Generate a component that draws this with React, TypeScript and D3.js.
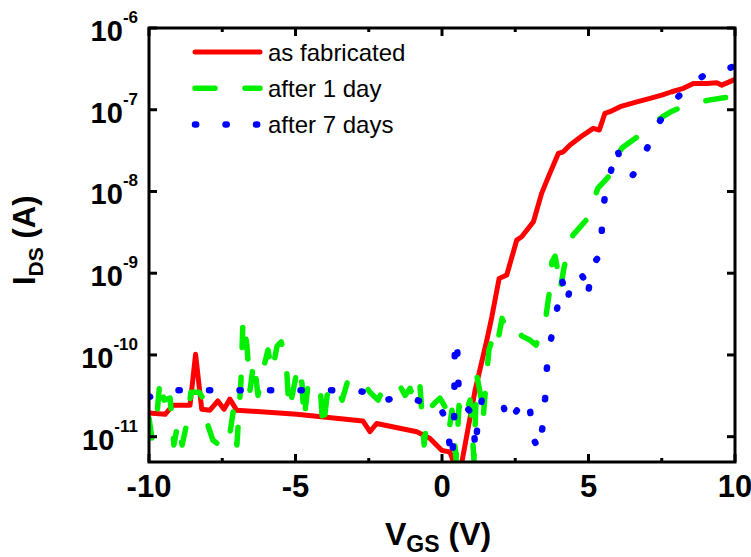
import React from 'react';
import * as d3 from 'd3';

// ---- data (V_GS in volts, I_DS in amperes) ----
const xMajorTicks = [-10, -5, 0, 5, 10];
const xMinorTicks = [-7.5, -2.5, 2.5, 7.5];
const yTickExponents = [-6, -7, -8, -9, -10, -11];
const seriesNames = ['as fabricated', 'after 1 day', 'after 7 days'];

const asFabricated: [number, number][] = [
  [-10.0, 1.95e-11], [-9.45, 1.88e-11], [-9.18, 2.43e-11], [-8.6, 2.43e-11],
  [-8.41, 1.02e-10], [-8.2, 2.17e-11], [-7.92, 2.11e-11], [-7.65, 2.74e-11],
  [-7.44, 2.17e-11], [-7.24, 2.88e-11], [-7.01, 2.11e-11], [-4.96, 1.88e-11],
  [-2.7, 1.56e-11], [-2.46, 1.15e-11], [-2.23, 1.45e-11], [-0.86, 1.15e-11],
  [-0.41, 9.5e-12], [-0.01, 6.8e-12], [0.27, 6.5e-12], [0.45, 4.3e-12],
  [0.55, 3.0e-12], [0.65, 4.3e-12], [1.13, 3.7e-11], [1.53, 1.52e-10],
  [1.7, 2.92e-10], [1.95, 8.6e-10], [2.21, 9.5e-10], [2.55, 2.54e-9],
  [2.72, 2.79e-9], [3.12, 4.26e-9], [3.4, 9.48e-9], [3.63, 1.51e-8],
  [3.97, 2.92e-8], [4.14, 3.06e-8], [4.37, 3.7e-8], [4.82, 4.9e-8],
  [5.16, 5.92e-8], [5.37, 5.65e-8], [5.56, 9.04e-8], [5.73, 9.46e-8],
  [6.08, 1.09e-7], [6.65, 1.25e-7], [7.1, 1.38e-7], [7.5, 1.51e-7],
  [7.84, 1.66e-7], [8.24, 1.83e-7], [8.58, 2.1e-7], [9.03, 2.1e-7],
  [9.38, 2.14e-7], [9.55, 2.0e-7], [10.0, 2.35e-7],
];

const after1Day: [number, number][] = [
  [-10.0, 1.68e-11], [-9.9, 9.6e-12], [-9.73, 1.83e-11], [-9.62, 5.2e-11],
  [-9.49, 2.8e-11], [-9.28, 2.96e-11], [-9.15, 7.9e-12], [-9.01, 1.5e-11],
  [-8.87, 7.9e-12], [-8.7, 1.5e-11], [-8.57, 3.5e-11], [-8.29, 3.5e-11],
  [-8.12, 2.8e-11], [-7.99, 1.38e-11], [-7.82, 9.1e-12], [-7.61, 7.9e-12],
  [-7.44, 1.04e-11], [-7.27, 9.1e-12], [-7.13, 2.0e-11], [-7.0, 7.9e-12],
  [-6.86, 4.9e-11], [-6.79, 2.8e-10], [-6.66, 1.32e-10], [-6.55, 3.7e-11],
  [-6.42, 8.6e-11], [-6.28, 3.2e-11], [-6.11, 6.5e-11], [-5.94, 1.15e-10],
  [-5.8, 6.2e-11], [-5.63, 1.28e-10], [-5.49, 1.44e-10], [-5.32, 8.6e-11],
  [-5.22, 2.1e-11], [-5.09, 3.5e-11], [-4.91, 7.5e-11], [-4.78, 4.5e-11],
  [-4.71, 1.59e-11], [-4.57, 4.3e-11], [-4.37, 4.9e-11], [-4.16, 4.3e-11],
  [-4.06, 1.2e-11], [-3.92, 3.2e-11], [-3.75, 4.3e-11], [-3.58, 4.3e-11],
  [-3.41, 2.8e-11], [-3.21, 4.9e-11], [-2.94, 5.5e-11], [-2.7, 4.6e-11],
  [-2.46, 3.5e-11], [-2.18, 2.8e-11], [-1.95, 4.3e-11], [-1.71, 4.6e-11],
  [-1.43, 4.15e-11], [-1.26, 3.2e-11], [-1.09, 3.9e-11], [-0.92, 2.6e-11],
  [-0.75, 4.15e-11], [-0.61, 7.9e-12], [-0.48, 2.1e-11], [-0.24, 2.6e-11],
  [-0.07, 2.96e-11], [0.14, 2.2e-11], [0.24, 1.2e-11], [0.34, 2.1e-11],
  [0.48, 5.2e-12], [0.58, 2.4e-11], [0.72, 1.59e-11], [0.96, 2.8e-11],
  [1.02, 1.31e-11], [1.09, 5.2e-12], [1.19, 5.5e-11], [1.3, 3.5e-11],
  [1.4, 1.59e-11], [1.5, 4.5e-11], [1.6, 1.15e-10], [1.77, 1.75e-10],
  [1.88, 1.32e-10], [2.05, 2.8e-10], [2.22, 2.0e-10], [2.46, 2.25e-10],
  [2.73, 1.7e-10], [3.0, 1.52e-10], [3.21, 1.32e-10], [3.38, 2.0e-10],
  [3.55, 2.99e-10], [3.65, 5.4e-10], [3.75, 1.37e-9], [3.86, 1.62e-9],
  [3.96, 1.03e-9], [4.03, 6.2e-10], [4.16, 1.15e-9], [4.3, 1.92e-9],
  [4.47, 2.92e-9], [4.71, 3.66e-9], [4.98, 4.72e-9], [5.15, 7.2e-9],
  [5.32, 1.1e-8], [5.49, 1.27e-8], [5.67, 1.5e-8], [5.9, 2.42e-8],
  [6.14, 3.4e-8], [6.42, 4.03e-8], [6.66, 4.63e-8], [6.86, 5.48e-8],
  [7.17, 6.68e-8], [7.51, 8.1e-8], [7.85, 9.6e-8], [8.26, 1.11e-7],
  [8.67, 1.21e-7], [9.15, 1.32e-7], [9.56, 1.39e-7], [10.0, 1.47e-7],
];

const after7Days: [number, number][] = [
  [-10.0, 3.04e-11], [-9.62, 3.4e-11], [-9.11, 3.7e-11], [-6.55, 3.7e-11],
  [-3.82, 3.7e-11], [-2.8, 3.6e-11], [-2.39, 3.4e-11], [-2.12, 2.72e-11],
  [-1.6, 2.96e-11], [-1.26, 3.13e-11], [-0.75, 2.72e-11], [-0.14, 2.57e-11],
  [0.1, 1.73e-11], [0.2, 1.2e-11], [0.27, 7.4e-12], [0.34, 5.2e-12],
  [0.41, 1.2e-11], [0.44, 1.52e-10], [0.51, 1.52e-10], [0.58, 2.8e-11],
  [1.02, 1.94e-11], [1.09, 1.38e-11], [1.13, 6.8e-12], [1.23, 1.59e-11],
  [1.37, 2.96e-11], [1.5, 2.96e-11], [2.08, 2.6e-11], [2.22, 1.46e-11],
  [2.56, 2.1e-11], [2.9, 1.59e-11], [3.0, 2.2e-11], [3.11, 9.6e-12],
  [3.31, 6.8e-12], [3.45, 1.46e-11], [3.52, 2.96e-11], [3.58, 6.9e-11],
  [3.72, 1.56e-10], [3.92, 3.53e-10], [4.1, 8.2e-10], [4.27, 4.3e-10],
  [4.37, 6.8e-10], [4.71, 1.03e-9], [4.91, 7.8e-10], [4.98, 5.1e-10],
  [5.09, 1.19e-9], [5.43, 1.76e-9], [5.46, 3.9e-9], [5.56, 9.0e-9],
  [5.8, 1.99e-8], [5.97, 3.5e-8], [6.18, 1.68e-8], [6.52, 1.59e-8],
  [6.93, 2.95e-8], [7.34, 6.5e-8], [7.71, 9.9e-8], [8.05, 1.43e-7],
  [8.46, 2.01e-7], [8.91, 2.58e-7], [9.42, 2.89e-7], [10.0, 3.43e-7],
];

// ---- layout ----
const W = 751;
const H = 557;
const L = 149;
const R = 735;
const T = 28;
const B = 462;
const FONT = '"Liberation Sans", Arial, Helvetica, sans-serif';

const styles = [
  { color: '#ff0000', dash: undefined as string | undefined, width: 5 },
  { color: '#00f000', dash: '20,30', width: 5.5 },
  { color: '#0000ff', dash: '1.2,29.3', width: 6.5 },
];

export default function App() {
  const x = d3.scaleLinear().domain([-10, 10]).range([L, R]);
  const y = d3.scaleLog().domain([4.9e-12, 1e-6]).range([B, T]);
  const line = d3
    .line<[number, number]>()
    .x((d) => x(d[0]))
    .y((d) => y(d[1]));
  const data = [asFabricated, after1Day, after7Days];

  return (
    <svg
      width={W}
      height={H}
      style={{ position: 'absolute', left: 0, top: 0, background: '#fff' }}
      fontFamily={FONT}
    >
      <defs>
        <clipPath id="plotClip">
          <rect x={L} y={T} width={R - L} height={B - T} />
        </clipPath>
      </defs>
      <rect x={0} y={0} width={W} height={H} fill="#fff" />

      <g clipPath="url(#plotClip)">
        {data.map((d, i) => (
          <path
            key={i}
            d={line(d) || ''}
            fill="none"
            stroke={styles[i].color}
            strokeWidth={styles[i].width}
            strokeDasharray={styles[i].dash}
            strokeLinecap="round"
            strokeLinejoin="round"
          />
        ))}
      </g>

      {/* frame */}
      <rect x={L} y={T} width={R - L} height={B - T} fill="none" stroke="#000" strokeWidth={3} />

      {/* x ticks */}
      {xMajorTicks.map((t) => (
        <g key={'xm' + t}>
          <line x1={x(t)} x2={x(t)} y1={B} y2={B - 8} stroke="#000" strokeWidth={3} />
          <line x1={x(t)} x2={x(t)} y1={T} y2={T + 8} stroke="#000" strokeWidth={3} />
          <text
            x={x(t)}
            y={B + 35}
            textAnchor="middle"
            fontSize={31}
            fontWeight="bold"
          >
            {t}
          </text>
        </g>
      ))}
      {xMinorTicks.map((t) => (
        <g key={'xn' + t}>
          <line x1={x(t)} x2={x(t)} y1={B} y2={B - 4} stroke="#000" strokeWidth={3} />
          <line x1={x(t)} x2={x(t)} y1={T} y2={T + 4} stroke="#000" strokeWidth={3} />
        </g>
      ))}

      {/* y ticks */}
      {yTickExponents.map((e) => {
        const v = Math.pow(10, e);
        const yy = y(v);
        return (
          <g key={'y' + e}>
            <line x1={L} x2={L + 8} y1={yy} y2={yy} stroke="#000" strokeWidth={3} />
            <line x1={R} x2={R - 8} y1={yy} y2={yy} stroke="#000" strokeWidth={3} />
            <text x={138} y={yy + 13} textAnchor="end" fontWeight="bold">
              <tspan fontSize={29}>10</tspan>
              <tspan fontSize={17} dy={-18}>
                {String(e)}
              </tspan>
            </text>
          </g>
        );
      })}

      {/* axis titles */}
      <text x={385} y={545} fontWeight="bold" fontSize={32}>
        <tspan>V</tspan>
        <tspan fontSize={23} dy={7}>GS</tspan>
        <tspan dy={-7}> (V)</tspan>
      </text>
      <text transform="translate(35,285) rotate(-90)" fontWeight="bold" fontSize={31}>
        <tspan>I</tspan>
        <tspan fontSize={21} dy={8}>DS</tspan>
        <tspan dy={-8}> (A)</tspan>
      </text>

      {/* legend */}
      {seriesNames.map((name, i) => {
        const ly = 52 + i * 36.3;
        return (
          <g key={name}>
            <line
              x1={195}
              x2={260}
              y1={ly}
              y2={ly}
              stroke={styles[i].color}
              strokeWidth={styles[i].width}
              strokeDasharray={styles[i].dash}
              strokeLinecap="round"
            />
            <text x={268} y={ly + 8.5} fontSize={24}>
              {name}
            </text>
          </g>
        );
      })}
    </svg>
  );
}
